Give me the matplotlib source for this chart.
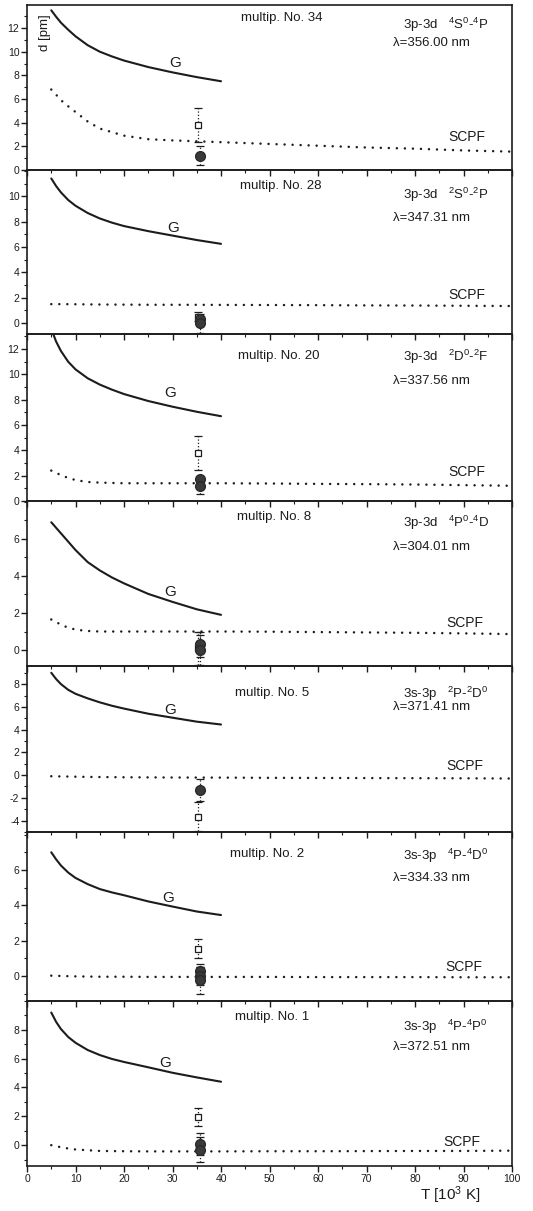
import numpy as np
import matplotlib
matplotlib.use("Agg")
import matplotlib.pyplot as plt
from matplotlib.ticker import MultipleLocator

plt.rcParams["font.family"] = ["Liberation Sans", "DejaVu Sans"]
plt.rcParams["mathtext.fontset"] = "custom"
plt.rcParams["mathtext.rm"] = "Liberation Sans"
plt.rcParams["mathtext.it"] = "Liberation Sans"
plt.rcParams["axes.unicode_minus"] = False

INK = "#1c1c1c"

# panels, top to bottom
multiplets = ["multip. No. 34", "multip. No. 28", "multip. No. 20", "multip. No. 8",
              "multip. No. 5", "multip. No. 2", "multip. No. 1"]
transitions = [r"3p-3d   $^4$S$^0$-$^4$P", r"3p-3d   $^2$S$^0$-$^2$P", r"3p-3d   $^2$D$^0$-$^2$F",
               r"3p-3d   $^4$P$^0$-$^4$D", r"3s-3p   $^2$P-$^2$D$^0$", r"3s-3p   $^4$P-$^4$D$^0$",
               r"3s-3p   $^4$P-$^4$P$^0$"]
wavelengths = ["λ=356.00 nm", "λ=347.31 nm", "λ=337.56 nm", "λ=304.01 nm",
               "λ=371.41 nm", "λ=334.33 nm", "λ=372.51 nm"]

# G curves (solid)
g_T = [5, 6, 7, 8.5, 10, 12.5, 15, 17.5, 20, 25, 30, 35, 40]
g_d = [
    [13.5, 12.95, 12.45, 11.85, 11.3, 10.55, 10.0, 9.6, 9.25, 8.7, 8.25, 7.85, 7.5],
    [11.4, 10.8, 10.3, 9.7, 9.25, 8.68, 8.25, 7.92, 7.65, 7.25, 6.9, 6.55, 6.25],
    [13.6, 12.6, 11.85, 11.0, 10.4, 9.7, 9.2, 8.8, 8.45, 7.9, 7.45, 7.05, 6.7],
    [6.9, 6.6, 6.3, 5.85, 5.4, 4.75, 4.3, 3.92, 3.6, 3.03, 2.6, 2.2, 1.9],
    [9.0, 8.45, 8.0, 7.5, 7.15, 6.75, 6.4, 6.1, 5.85, 5.4, 5.05, 4.7, 4.45],
    [7.0, 6.6, 6.25, 5.85, 5.55, 5.2, 4.92, 4.73, 4.57, 4.22, 3.93, 3.65, 3.45],
    [9.2, 8.55, 8.05, 7.5, 7.1, 6.6, 6.25, 5.98, 5.77, 5.4, 5.02, 4.7, 4.4],
]

# SCPF curves (dotted)
s_T = [5, 7.5, 10, 12.5, 15, 20, 25, 30, 40, 50, 60, 70, 80, 90, 100]
s_d = [
    [6.8, 5.7, 4.9, 4.1, 3.5, 2.9, 2.6, 2.5, 2.35, 2.2, 2.05, 1.9, 1.8, 1.65, 1.55],
    [1.5, 1.5, 1.49, 1.48, 1.47, 1.46, 1.45, 1.45, 1.44, 1.43, 1.42, 1.4, 1.39, 1.37, 1.35],
    [2.4, 1.95, 1.65, 1.5, 1.45, 1.4, 1.4, 1.4, 1.4, 1.38, 1.35, 1.33, 1.3, 1.25, 1.2],
    [1.65, 1.3, 1.1, 1.03, 1.0, 1.0, 1.0, 1.0, 1.0, 0.99, 0.97, 0.95, 0.93, 0.9, 0.86],
    [-0.1, -0.12, -0.14, -0.16, -0.17, -0.19, -0.2, -0.21, -0.22, -0.24, -0.25, -0.26, -0.27, -0.28, -0.3],
    [0.02, 0.0, -0.02, -0.03, -0.04, -0.04, -0.05, -0.05, -0.05, -0.05, -0.06, -0.06, -0.06, -0.07, -0.07],
    [0.0, -0.18, -0.3, -0.35, -0.4, -0.42, -0.43, -0.43, -0.43, -0.42, -0.42, -0.41, -0.4, -0.4, -0.38],
]

# experimental points
sq_T = 35.3
sq_d = [3.8, 0.5, 3.8, 0.1, -3.65, 1.55, 1.95]
sq_err = [1.4, 0.35, 1.35, 0.9, 1.3, 0.55, 0.65]
ci_T = 35.7
ci_d = [[1.2], [0.3, 0.0], [1.7, 1.2], [0.3, 0.0], [-1.3], [0.3, 0.0, -0.25], [0.1, -0.3]]
ci_err = [[0.8], [0.3, 0.75], [0.3, 0.65], [0.7, 0.8], [0.95], [0.4, 0.5, 0.77], [0.75, 0.85]]

ylims = [(0, 13.95), (-0.85, 12.07), (0, 13.2), (-0.86, 8.05), (-5.0, 9.6), (-1.41, 8.15), (-1.44, 10.0)]
yticks = [range(0, 13, 2), range(0, 11, 2), range(0, 13, 2), range(0, 7, 2),
          range(-4, 9, 2), range(0, 7, 2), range(0, 9, 2)]
g_label = [(30.5, 9.05), (30.2, 7.48), (29.5, 8.52), (29.5, 3.15), (29.5, 5.72), (29.1, 4.4), (28.5, 5.69)]
s_label = [(90.6, 2.82), (90.6, 2.23), (90.6, 2.32), (90.3, 1.44), (90.3, 0.79), (90.0, 0.53), (89.7, 0.25)]
title_pos = [(0.526, 0.92), (0.524, 0.90), (0.52, 0.87), (0.51, 0.90), (0.505, 0.84), (0.495, 0.87), (0.505, 0.90)]
trans_y = [0.88, 0.85, 0.86, 0.87, 0.83, 0.86, 0.84]
lam_y = [0.77, 0.71, 0.72, 0.72, 0.75, 0.73, 0.72]

fig = plt.figure(figsize=(5.33, 12.11), dpi=100)
gs = fig.add_gridspec(7, 1, left=0.0507, right=0.9606, top=0.9959, bottom=0.0372,
                      hspace=0, height_ratios=[165, 164, 167, 165, 166, 169, 165])

for i in range(7):
    ax = fig.add_subplot(gs[i])
    ax.patch.set_visible(False)
    ax.plot(g_T, g_d[i], color=INK, lw=1.5, solid_capstyle="round", solid_joinstyle="round")
    ax.plot(s_T, s_d[i], color=INK, lw=1.8, linestyle=(0, (0.01, 3.2)), dash_capstyle="round")

    eb = ax.errorbar(sq_T, sq_d[i], yerr=sq_err[i], fmt="s", mfc="white", mec=INK, mew=0.9,
                     ms=5, ecolor=INK, elinewidth=0.9, capsize=3, capthick=0.9, zorder=3)
    eb[2][0].set_linestyle(":")
    for d, e in zip(ci_d[i], ci_err[i]):
        eb = ax.errorbar(ci_T, d, yerr=e, fmt="o", mfc="#3a3a3a", mec="#2a2a2a", ms=7,
                         ecolor=INK, elinewidth=0.9, capsize=3, capthick=0.9, zorder=4)
        eb[2][0].set_linestyle(":")

    ax.set_xlim(0, 100)
    ax.set_ylim(*ylims[i])
    ax.set_yticks(list(yticks[i]))
    ax.yaxis.set_minor_locator(MultipleLocator(1))
    ax.xaxis.set_major_locator(MultipleLocator(10))
    ax.xaxis.set_minor_locator(MultipleLocator(5))
    ax.tick_params(axis="both", which="major", direction="out", length=4, width=1.0,
                   labelsize=7.5, pad=1.5, color=INK, labelcolor=INK)
    ax.tick_params(axis="both", which="minor", direction="out", length=2.5, width=0.8, color=INK)
    ax.tick_params(top=False, right=False)
    if i < 6:
        ax.tick_params(axis="x", labelbottom=False)
    for sp in ax.spines.values():
        sp.set_linewidth(1.2)
        sp.set_color(INK)

    ax.text(*g_label[i], "G", fontsize=11, color=INK, ha="center", va="center")
    ax.text(*s_label[i], "SCPF", fontsize=10, color=INK, ha="center", va="center")
    ax.text(*title_pos[i], multiplets[i], transform=ax.transAxes, fontsize=9.5,
            color=INK, ha="center", va="center")
    ax.text(0.775, trans_y[i], transitions[i], transform=ax.transAxes, fontsize=9.5,
            color=INK, ha="left", va="center")
    ax.text(0.755, lam_y[i], wavelengths[i], transform=ax.transAxes, fontsize=9.5,
            color=INK, ha="left", va="center")
    if i == 0:
        ax.text(0.037, 0.83, "d [pm]", transform=ax.transAxes, rotation=90, fontsize=9.5,
                color=INK, ha="center", va="center")

fig.text(0.845, 0.013, r"T [10$^3$ K]", fontsize=11, color=INK, ha="center", va="center")

fig.savefig("out.png", dpi=100)
